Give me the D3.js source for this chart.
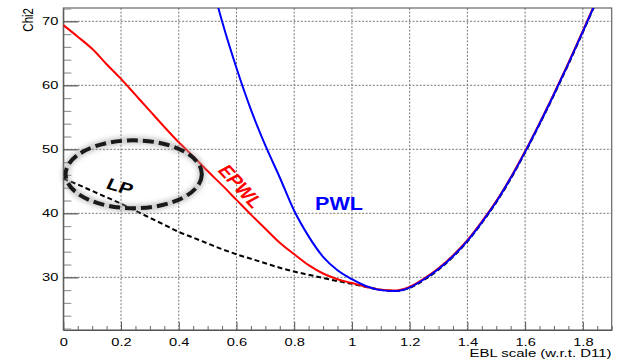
<!DOCTYPE html>
<html>
<head>
<meta charset="utf-8">
<script src="https://cdn.jsdelivr.net/npm/d3@7"></script>
<style>
  html, body { margin: 0; padding: 0; background: #fff; }
  svg { display: block; font-family: "Liberation Sans", Arial, sans-serif; }
</style>
</head>
<body>
<svg id="chart" width="621" height="361"></svg>
<script>
// ---------------- data ----------------
const xTicks = [0, 0.2, 0.4, 0.6, 0.8, 1, 1.2, 1.4, 1.6, 1.8];
const xTickLabels = ["0", "0.2", "0.4", "0.6", "0.8", "1", "1.2", "1.4", "1.6", "1.8"];
const yTicks = [30, 40, 50, 60, 70];
const yTickLabels = ["30", "40", "50", "60", "70"];

const scanX = [0, 0.05, 0.1, 0.15, 0.2, 0.25, 0.3, 0.35, 0.4, 0.45, 0.5, 0.55, 0.6, 0.65, 0.7, 0.75,
               0.8, 0.85, 0.9, 0.95, 1.0, 1.05, 1.1, 1.15, 1.2, 1.25, 1.3, 1.35, 1.4, 1.45, 1.5, 1.55,
               1.6, 1.65, 1.7, 1.75, 1.8, 1.85];
// EPWL (red)
const epwlChi2 = [69.4, 67.6, 65.7, 63.3, 61.0, 58.5, 56.0, 53.5, 51.1, 48.9, 46.6, 44.4, 42.1, 39.8, 37.6, 35.4,
                  33.6, 31.9, 30.6, 29.7, 29.1, 28.5, 28.05, 27.95, 28.5, 29.8, 31.4, 33.4, 35.8, 38.7, 41.9, 45.6,
                  49.7, 54.1, 58.7, 63.5, 68.5, 73.6];
// LP (black dashed)
const lpChi2 = [45.4, 44.5, 43.5, 42.5, 41.5, 40.4, 39.3, 38.2, 37.1, 36.2, 35.3, 34.4, 33.6, 32.9, 32.2, 31.5,
                30.9, 30.4, 29.9, 29.4, 29.0, 28.5, 28.05, 27.85, 28.35, 29.6, 31.2, 33.2, 35.6, 38.5, 41.7, 45.4,
                49.5, 53.9, 58.5, 63.3, 68.3, 73.4];
// PWL (blue)
const pwlX = [0.5, 0.55, 0.6, 0.65, 0.7, 0.75, 0.8, 0.85, 0.9, 0.95, 1.0, 1.05, 1.1, 1.15, 1.2, 1.25, 1.3,
              1.35, 1.4, 1.45, 1.5, 1.55, 1.6, 1.65, 1.7, 1.75, 1.8, 1.85];
const pwlChi2 = [78.5, 70.0, 62.7, 56.2, 50.6, 45.6, 40.4, 36.4, 33.2, 31.1, 29.7, 28.6, 28.0, 27.85, 28.4, 29.7, 31.3,
                 33.3, 35.7, 38.6, 41.8, 45.5, 49.6, 54.0, 58.6, 63.4, 68.4, 73.5];

// annotations (data units)
const lpEllipse = { cx: 0.244, cy: 46.1, rx: 0.236, ry: 5.3 };
const labels = [
  { text: "LP",   x: 0.197, y: 44.2, color: "#000000", size: 16, rot: 20 },
  { text: "EPWL", x: 0.615, y: 44.2, color: "#ff0000", size: 16.5, rot: 55 },
  { text: "PWL",  x: 0.872, y: 40.5, color: "#0000ff", size: 18, rot: 0, anchor: "start", baseline: true }
];

// ---------------- layout ----------------
const W = 621, H = 361;
const m = { left: 63.3, right: 9.3, top: 8, bottom: 31 };
const SX = 1.3; // horizontal text stretch of the original

const svg = d3.select("#chart");
const x = d3.scaleLinear().domain([0, 1.9]).range([m.left, W - m.right]);
const y = d3.scaleLinear().domain([21.77, 72.08]).range([H - m.bottom, m.top]);

svg.append("defs").append("clipPath").attr("id", "clip")
  .append("rect").attr("x", m.left).attr("y", m.top)
  .attr("width", W - m.left - m.right).attr("height", H - m.top - m.bottom);

const blur = svg.select("defs").append("filter").attr("id", "glow")
  .attr("x", "-20%").attr("y", "-30%").attr("width", "140%").attr("height", "160%");
blur.append("feGaussianBlur").attr("stdDeviation", 2.5);

// grid
const grid = svg.append("g");
grid.selectAll(".gx").data(xTicks.filter(d => d > 0)).enter().append("line")
  .attr("x1", d => x(d)).attr("x2", d => x(d)).attr("y1", m.top).attr("y2", H - m.bottom)
  .attr("stroke", "#777").attr("stroke-width", 1).attr("stroke-dasharray", "2,1.6");
grid.selectAll(".gy").data(yTicks).enter().append("line")
  .attr("y1", d => y(d)).attr("y2", d => y(d)).attr("x1", m.left).attr("x2", W - m.right)
  .attr("stroke", "#777").attr("stroke-width", 1).attr("stroke-dasharray", "2,1.6");

// frame
svg.append("rect").attr("x", m.left).attr("y", m.top)
  .attr("width", W - m.left - m.right).attr("height", H - m.top - m.bottom)
  .attr("fill", "none").attr("stroke", "#666").attr("stroke-width", 1.2);

// minor ticks
const xMinor = d3.range(0, 1.9001, 0.05).filter(v => Math.abs(v / 0.2 - Math.round(v / 0.2)) > 1e-6);
const yMinor = d3.range(22, 72.01, 2).filter(v => v % 10 !== 0);
svg.append("g").attr("transform", `translate(0,${H - m.bottom})`)
  .call(d3.axisBottom(x).tickValues(xMinor).tickSize(-4).tickSizeOuter(0).tickFormat(""))
  .call(g => g.select(".domain").remove())
  .call(g => g.selectAll("line").attr("stroke", "#666"));
svg.append("g").attr("transform", `translate(${m.left},0)`)
  .call(d3.axisLeft(y).tickValues(yMinor).tickSize(-8).tickSizeOuter(0).tickFormat(""))
  .call(g => g.select(".domain").remove())
  .call(g => g.selectAll("line").attr("stroke", "#999").attr("stroke-width", 1.2));

// major axes
svg.append("g").attr("transform", `translate(0,${H - m.bottom})`)
  .call(d3.axisBottom(x).tickValues(xTicks).tickSize(-8).tickSizeOuter(0).tickPadding(7.5)
        .tickFormat((d, i) => xTickLabels[i]))
  .call(g => g.select(".domain").attr("stroke", "#555"))
  .call(g => g.selectAll("line").attr("stroke", "#555"))
  .call(g => g.selectAll("text").attr("font-size", 11.3).attr("fill", "#000")
        .attr("font-family", "Liberation Sans, Arial, sans-serif")
        .attr("transform", `scale(${SX},1)`));
svg.append("g").attr("transform", `translate(${m.left},0)`)
  .call(d3.axisLeft(y).tickValues(yTicks).tickSize(-15).tickSizeOuter(0).tickPadding(3.8)
        .tickFormat((d, i) => yTickLabels[i]))
  .call(g => g.select(".domain").attr("stroke", "#555"))
  .call(g => g.selectAll("line").attr("stroke", "#555").attr("stroke-width", 1.2))
  .call(g => g.selectAll("text").attr("font-size", 11.3).attr("fill", "#000")
        .attr("font-family", "Liberation Sans, Arial, sans-serif")
        .attr("transform", `scale(${SX},1)`));

// axis titles
svg.append("text").attr("transform", `translate(${W - 9.5},357) scale(${SX},1)`)
  .attr("text-anchor", "end").attr("font-size", 11.5).attr("fill", "#000")
  .text("EBL scale (w.r.t. D11)");
svg.append("text").attr("transform", `translate(32.5,${m.top}) scale(${SX},1) rotate(-90)`)
  .attr("text-anchor", "end").attr("font-size", 11.5).attr("fill", "#000")
  .text("Chi2");

// curves
const line = d3.line().x(d => x(d[0])).y(d => y(d[1])).curve(d3.curveMonotoneX);
const plot = svg.append("g").attr("clip-path", "url(#clip)");
plot.append("path").datum(d3.zip(scanX, lpChi2)).attr("d", line)
  .attr("fill", "none").attr("stroke", "#000").attr("stroke-width", 2).attr("stroke-dasharray", "5,3");
plot.append("path").datum(d3.zip(scanX, epwlChi2)).attr("d", line)
  .attr("fill", "none").attr("stroke", "#ff0000").attr("stroke-width", 2);
plot.append("path").datum(d3.zip(pwlX, pwlChi2)).attr("d", line)
  .attr("fill", "none").attr("stroke", "#0000ff").attr("stroke-width", 2);

// LP ellipse with glow
const ex = x(lpEllipse.cx), ey = y(lpEllipse.cy);
const erx = x(lpEllipse.cx + lpEllipse.rx) - ex, ery = ey - y(lpEllipse.cy + lpEllipse.ry);
svg.append("ellipse").attr("cx", ex).attr("cy", ey).attr("rx", erx).attr("ry", ery)
  .attr("fill", "none").attr("stroke", "#999").attr("stroke-width", 7).attr("opacity", 0.55)
  .attr("filter", "url(#glow)");
svg.append("ellipse").attr("cx", ex).attr("cy", ey).attr("rx", erx).attr("ry", ery)
  .attr("fill", "none").attr("stroke", "#1a1a1a").attr("stroke-width", 4).attr("stroke-dasharray", "11,5");

// labels
labels.forEach(l => {
  const t = svg.append("text")
    .attr("font-size", l.size).attr("font-weight", "bold").attr("fill", l.color)
    .attr("text-anchor", l.anchor || "middle")
    .attr("transform", `translate(${x(l.x)},${y(l.y)}) scale(${l.rot ? SX : 1.2},1) rotate(${l.rot})`)
    .text(l.text);
  if (!l.baseline) t.attr("dy", "0.36em");
});
</script>
</body>
</html>
